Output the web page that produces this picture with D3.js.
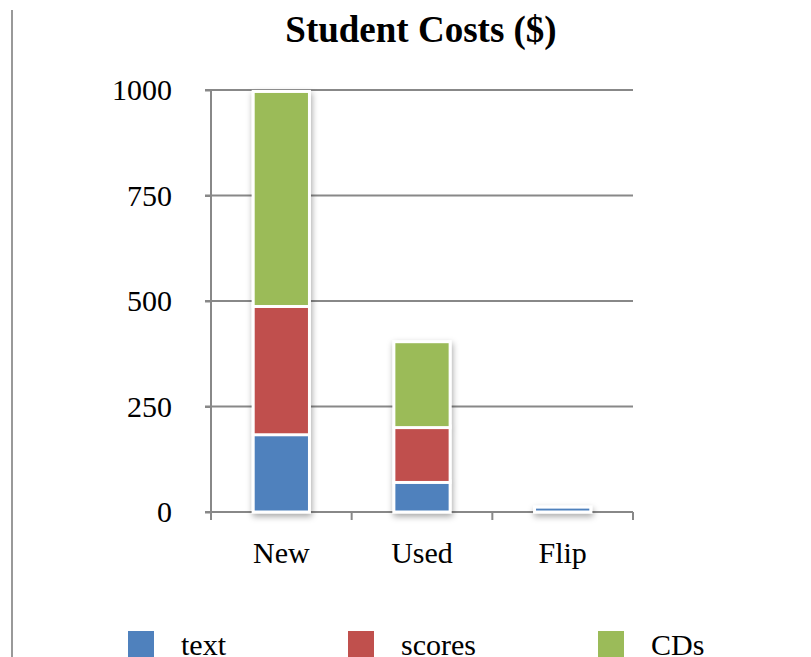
<!DOCTYPE html>
<meta charset="utf-8">
<title>Student Costs</title>
<style>

body {
  margin: 0px;
  background: #fff;
}

svg {
  display: block;
  font-family: "Liberation Serif", "Times New Roman", serif;
}

.axis path, .axis line {
  stroke: #888;
  stroke-width: 2px;
}

</style>

<script src="https://d3js.org/d3.v7.min.js"></script>

<body>
<script>

var width = 811, height = 657;

// chart data
var categories = ["New", "Used", "Flip"];
var series = ["text", "scores", "CDs"];
var textCost = [183, 70, 8];
var scoresCost = [304, 130, 0];
var cdCost = [506, 200, 0];
var yTicks = [0, 250, 500, 750, 1000];
var colors = ["#4f81bd", "#c0504d", "#9bbb59"];

var rows = categories.map(function(c, i) {
  return { cat: c, text: textCost[i], scores: scoresCost[i], CDs: cdCost[i] };
});

var svg = d3.select("body").append("svg")
    .attr("width", width)
    .attr("height", height);

var defs = svg.append("defs");
defs.append("filter")
    .attr("id", "shadow")
    .attr("x", "-30%").attr("y", "-10%")
    .attr("width", "160%").attr("height", "120%")
  .append("feDropShadow")
    .attr("dx", 1).attr("dy", 3)
    .attr("stdDeviation", 3)
    .attr("flood-color", "#000")
    .attr("flood-opacity", 0.35);

// frame line on the left
svg.append("line")
    .attr("x1", 12).attr("x2", 12)
    .attr("y1", 10).attr("y2", height)
    .attr("stroke", "#999")
    .attr("stroke-width", 2);

var plot = { left: 211, right: 633, top: 90, bottom: 512 };

var x = d3.scaleBand()
    .domain(categories)
    .range([plot.left, plot.right])
    .paddingInner(0.6)
    .paddingOuter(0.3);

var xTicks = d3.scaleLinear()
    .domain([0, categories.length])
    .range([plot.left, plot.right]);

var y = d3.scaleLinear()
    .domain([0, 1000])
    .range([plot.bottom, plot.top]);

// Title
svg.append("text")
    .attr("x", 421)
    .attr("y", 42)
    .style("font-size", "37px")
    .style("font-weight", "bold")
    .style("text-anchor", "middle")
    .text("Student Costs ($)");

// gridlines
svg.append("g")
    .selectAll("line")
    .data(yTicks.filter(function(d) { return d > 0; }))
  .enter().append("line")
    .attr("x1", plot.left - 6)
    .attr("x2", plot.right)
    .attr("y1", y)
    .attr("y2", y)
    .attr("stroke", "#888")
    .attr("stroke-width", 2);

// y axis
var yAxis = svg.append("g")
    .attr("class", "axis")
    .attr("transform", "translate(" + plot.left + ",0)")
    .call(d3.axisLeft(y).tickValues(yTicks).tickFormat(d3.format("d"))
      .tickSize(6).tickPadding(33));
yAxis.select(".domain").attr("d", "M0," + plot.top + "V" + (plot.bottom + 8));
yAxis.selectAll("text")
    .attr("fill", "#000")
    .style("font-size", "30px")
    .style("font-family", "Liberation Serif, Times New Roman, serif");

// x axis
var xAxis = svg.append("g")
    .attr("class", "axis")
    .attr("transform", "translate(0," + plot.bottom + ")");
xAxis.append("line")
    .attr("x1", plot.left - 6).attr("x2", plot.right)
    .attr("y1", 0).attr("y2", 0);
xAxis.selectAll("line.tick")
    .data(d3.range(categories.length + 1))
  .enter().append("line")
    .attr("class", "tick")
    .attr("x1", xTicks).attr("x2", xTicks)
    .attr("y1", 0).attr("y2", 8);
xAxis.selectAll("text")
    .data(categories)
  .enter().append("text")
    .attr("x", function(d) { return x(d) + x.bandwidth() / 2; })
    .attr("y", 51)
    .style("font-size", "30px")
    .style("text-anchor", "middle")
    .text(function(d) { return d; });

// stacked bars
var stack = d3.stack().keys(series)(rows);

var bars = svg.append("g")
    .attr("filter", "url(#shadow)");

bars.selectAll("g")
    .data(stack)
  .enter().append("g")
    .attr("fill", function(d, i) { return colors[i]; })
  .selectAll("rect")
    .data(function(d) { return d; })
  .enter().append("rect")
    .filter(function(d) { return d[1] - d[0] > 0; })
    .attr("x", function(d) { return x(d.data.cat); })
    .attr("width", x.bandwidth())
    .attr("y", function(d) { return y(d[1]) - 1.5; })
    .attr("height", function(d) { return y(d[0]) - y(d[1]) + 1.5; })
    .attr("stroke", "#fff")
    .attr("stroke-width", 3);

// legend
var legendX = [128, 348, 598];

var legend = svg.append("g")
    .selectAll("g")
    .data(series)
  .enter().append("g")
    .attr("transform", function(d, i) { return "translate(" + [legendX[i], 631] + ")"; });

legend.append("rect")
    .attr("width", 26)
    .attr("height", 30)
    .attr("fill", function(d, i) { return colors[i]; });

legend.append("text")
    .attr("x", 53)
    .attr("y", 24)
    .style("font-size", "30px")
    .text(function(d) { return d; });

</script>
